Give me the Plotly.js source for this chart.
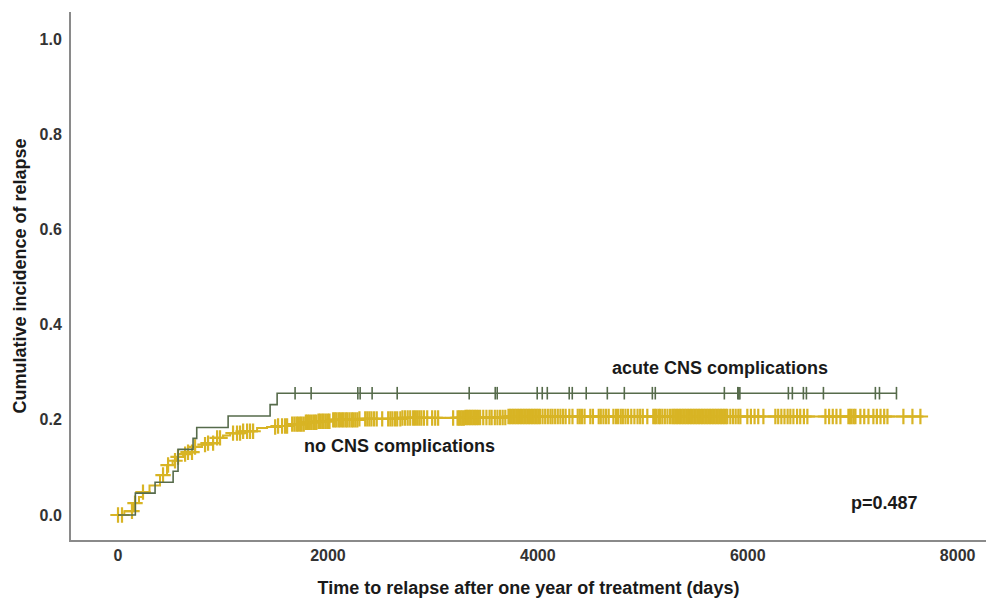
<!DOCTYPE html>
<html>
<head>
<meta charset="utf-8">
<script src="https://cdn.plot.ly/plotly-3.0.1.min.js"></script>
<style>html,body{margin:0;padding:0;background:#fff;}#chart{width:988px;height:602px;}</style>
</head>
<body>
<div id="chart"></div>
<script>
// ---- data ----
// acute CNS complications: step times (days) and cumulative incidence
const acuteTimes = [0, 165, 353, 525, 572, 715, 750, 1049, 1449, 1516, 7417];
const acuteValues = [0, 0.046, 0.069, 0.092, 0.138, 0.161, 0.184, 0.208, 0.232, 0.256, 0.256];
const acuteCensor = [1687, 1840, 2285, 2307, 2421, 2660, 3346, 3594, 3613, 3994, 4042, 4090, 4299, 4328,
  4461, 4662, 4824, 5091, 5119, 5777, 5905, 5915, 5925, 6387, 6425, 6530, 6559, 6721, 7216, 7255, 7417];

// no CNS complications
const noneTimes = [0, 60, 143, 200, 238, 300, 400, 467, 520, 562, 620, 667, 734, 800, 848, 944, 1000,
  1068, 1192, 1325, 1420, 1516, 1640, 1780, 1900, 2050, 2300, 2700, 3300, 3700, 7674];
const noneValues = [0, 0.008, 0.025, 0.038, 0.048, 0.062, 0.084, 0.105, 0.114, 0.122, 0.128, 0.132, 0.143,
  0.148, 0.151, 0.162, 0.167, 0.172, 0.176, 0.183, 0.185, 0.187, 0.191, 0.195, 0.197, 0.200, 0.202, 0.204,
  0.205, 0.207, 0.207];
const noneCensor = [0, 38, 133, 162, 238, 429, 477, 543, 572, 639, 667, 705, 734, 829, 858, 906, 944, 972,
  1096, 1134, 1163, 1192, 1230, 1258, 1287, 1497, 1525, 1563, 1592, 1611, 1659,
  1680, 1700, 1715, 1735, 1750, 1770, 1790, 1805, 1820, 1840, 1860, 1875, 1890, 1910, 1925, 1945, 1960, 1980, 2000, 2015,
  2050, 2065, 2080, 2100, 2115, 2135, 2150, 2170, 2185, 2205, 2225, 2240, 2260, 2280, 2300,
  2355, 2375, 2395, 2415, 2440, 2465, 2517, 2574, 2595, 2615, 2640, 2660, 2690, 2710, 2735, 2760, 2784,
  2812, 2830, 2850, 2870, 2890, 2915, 2946, 2993, 3022, 3050, 3193,
  3235, 3250, 3265, 3280, 3295, 3310, 3325, 3340, 3355, 3370, 3385, 3400, 3415, 3430, 3450,
  3480, 3510, 3540, 3560, 3590, 3615, 3640, 3665, 3690,
  3720, 3735, 3750, 3765, 3780, 3795, 3810, 3825, 3840, 3855, 3870, 3885, 3900, 3915, 3930, 3945, 3960, 3975, 3990, 4005, 4020,
  4045, 4070, 4095, 4120, 4140, 4165, 4190, 4215, 4240, 4265,
  4300, 4330, 4380, 4400, 4420, 4445, 4500, 4525, 4580, 4600, 4625, 4650, 4675, 4720, 4745, 4765, 4790, 4810,
  4835, 4860, 4890, 4920, 4950, 4975, 5000, 5043,
  5100, 5115, 5130, 5150, 5165, 5186, 5210, 5235, 5260, 5281,
  5295, 5310, 5325, 5340, 5355, 5370, 5385, 5400, 5415, 5430, 5445, 5460, 5475, 5490, 5505, 5520, 5535, 5550,
  5565, 5580, 5595, 5610, 5625, 5640, 5655, 5670, 5685, 5700, 5715, 5730, 5745, 5760, 5775, 5790, 5805,
  5834, 5860, 5885, 5910, 5930, 5996, 6030, 6065, 6100, 6149,
  6263, 6290, 6320, 6350, 6380, 6406, 6435, 6470, 6500, 6535, 6568,
  6740, 6775, 6810, 6845, 6883, 6959, 6975, 6990, 7010, 7026,
  7073, 7110, 7150, 7197, 7230, 7265, 7300, 7331, 7483, 7569, 7645];

const xTicks = [0, 2000, 4000, 6000, 8000];
const yTicks = [0, 0.2, 0.4, 0.6, 0.8, 1.0];

const labelAcute = 'acute CNS complications';
const labelNone = 'no CNS complications';
const pText = 'p=0.487';

// value of a step curve at time t
function stepAt(times, values, t) {
  let v = values[0];
  for (let i = 0; i < times.length; i++) { if (times[i] <= t) v = values[i]; else break; }
  return v;
}

const GREEN = '#566b4b';
const YELLOW = '#d8b424';
const FONT = 'Liberation Sans, Arial, sans-serif';

const traces = [
  {x: noneTimes, y: noneValues, mode: 'lines', line: {shape: 'hv', color: YELLOW, width: 2}, hoverinfo: 'skip'},
  {x: noneCensor, y: noneCensor.map(t => stepAt(noneTimes, noneValues, t)), mode: 'markers',
   marker: {symbol: 'cross-thin', size: 11, line: {color: YELLOW, width: 2.2}}, hoverinfo: 'skip'},
  {x: acuteTimes, y: acuteValues, mode: 'lines', line: {shape: 'hv', color: GREEN, width: 1.6}, hoverinfo: 'skip'},
  {x: acuteCensor, y: acuteCensor.map(t => stepAt(acuteTimes, acuteValues, t)), mode: 'markers',
   marker: {symbol: 'line-ns', size: 9, line: {color: GREEN, width: 1.6}}, hoverinfo: 'skip'}
];

const annFont = {family: FONT, size: 18, color: '#1a1a1a', weight: 'bold'};
const layout = {
  width: 988, height: 602,
  margin: {l: 71, r: 2, t: 12, b: 62},
  paper_bgcolor: '#fff', plot_bgcolor: '#fff',
  showlegend: false,
  xaxis: {
    range: [-448, 8270], tickvals: xTicks, ticktext: xTicks.map(String),
    showgrid: false, zeroline: false, showline: true, linecolor: '#8a8a8a', linewidth: 2,
    ticks: '', tickfont: {family: FONT, size: 16, color: '#333', weight: 'bold'},
    title: {text: 'Time to relapse after one year of treatment (days)', standoff: 18,
            font: {family: FONT, size: 18, color: '#1a1a1a', weight: 'bold'}},
    automargin: false
  },
  yaxis: {
    range: [-0.0525, 1.057], tickvals: yTicks, ticktext: yTicks.map(v => v.toFixed(1)),
    showgrid: false, zeroline: false, showline: true, linecolor: '#8a8a8a', linewidth: 2,
    ticks: '', ticklabelstandoff: 4, tickfont: {family: FONT, size: 16, color: '#333', weight: 'bold'},
    title: {text: 'Cumulative incidence of relapse', standoff: 8,
            font: {family: FONT, size: 18, color: '#1a1a1a', weight: 'bold'}},
    automargin: false
  },
  annotations: [
    {x: 5739, y: 0.309, xref: 'x', yref: 'y', text: labelAcute, showarrow: false, font: annFont},
    {x: 2679, y: 0.145, xref: 'x', yref: 'y', text: labelNone, showarrow: false, font: annFont},
    {x: 7302, y: 0.025, xref: 'x', yref: 'y', text: pText, showarrow: false, font: annFont}
  ]
};

Plotly.newPlot('chart', traces, layout, {displayModeBar: false, staticPlot: true});
</script>
</body>
</html>
